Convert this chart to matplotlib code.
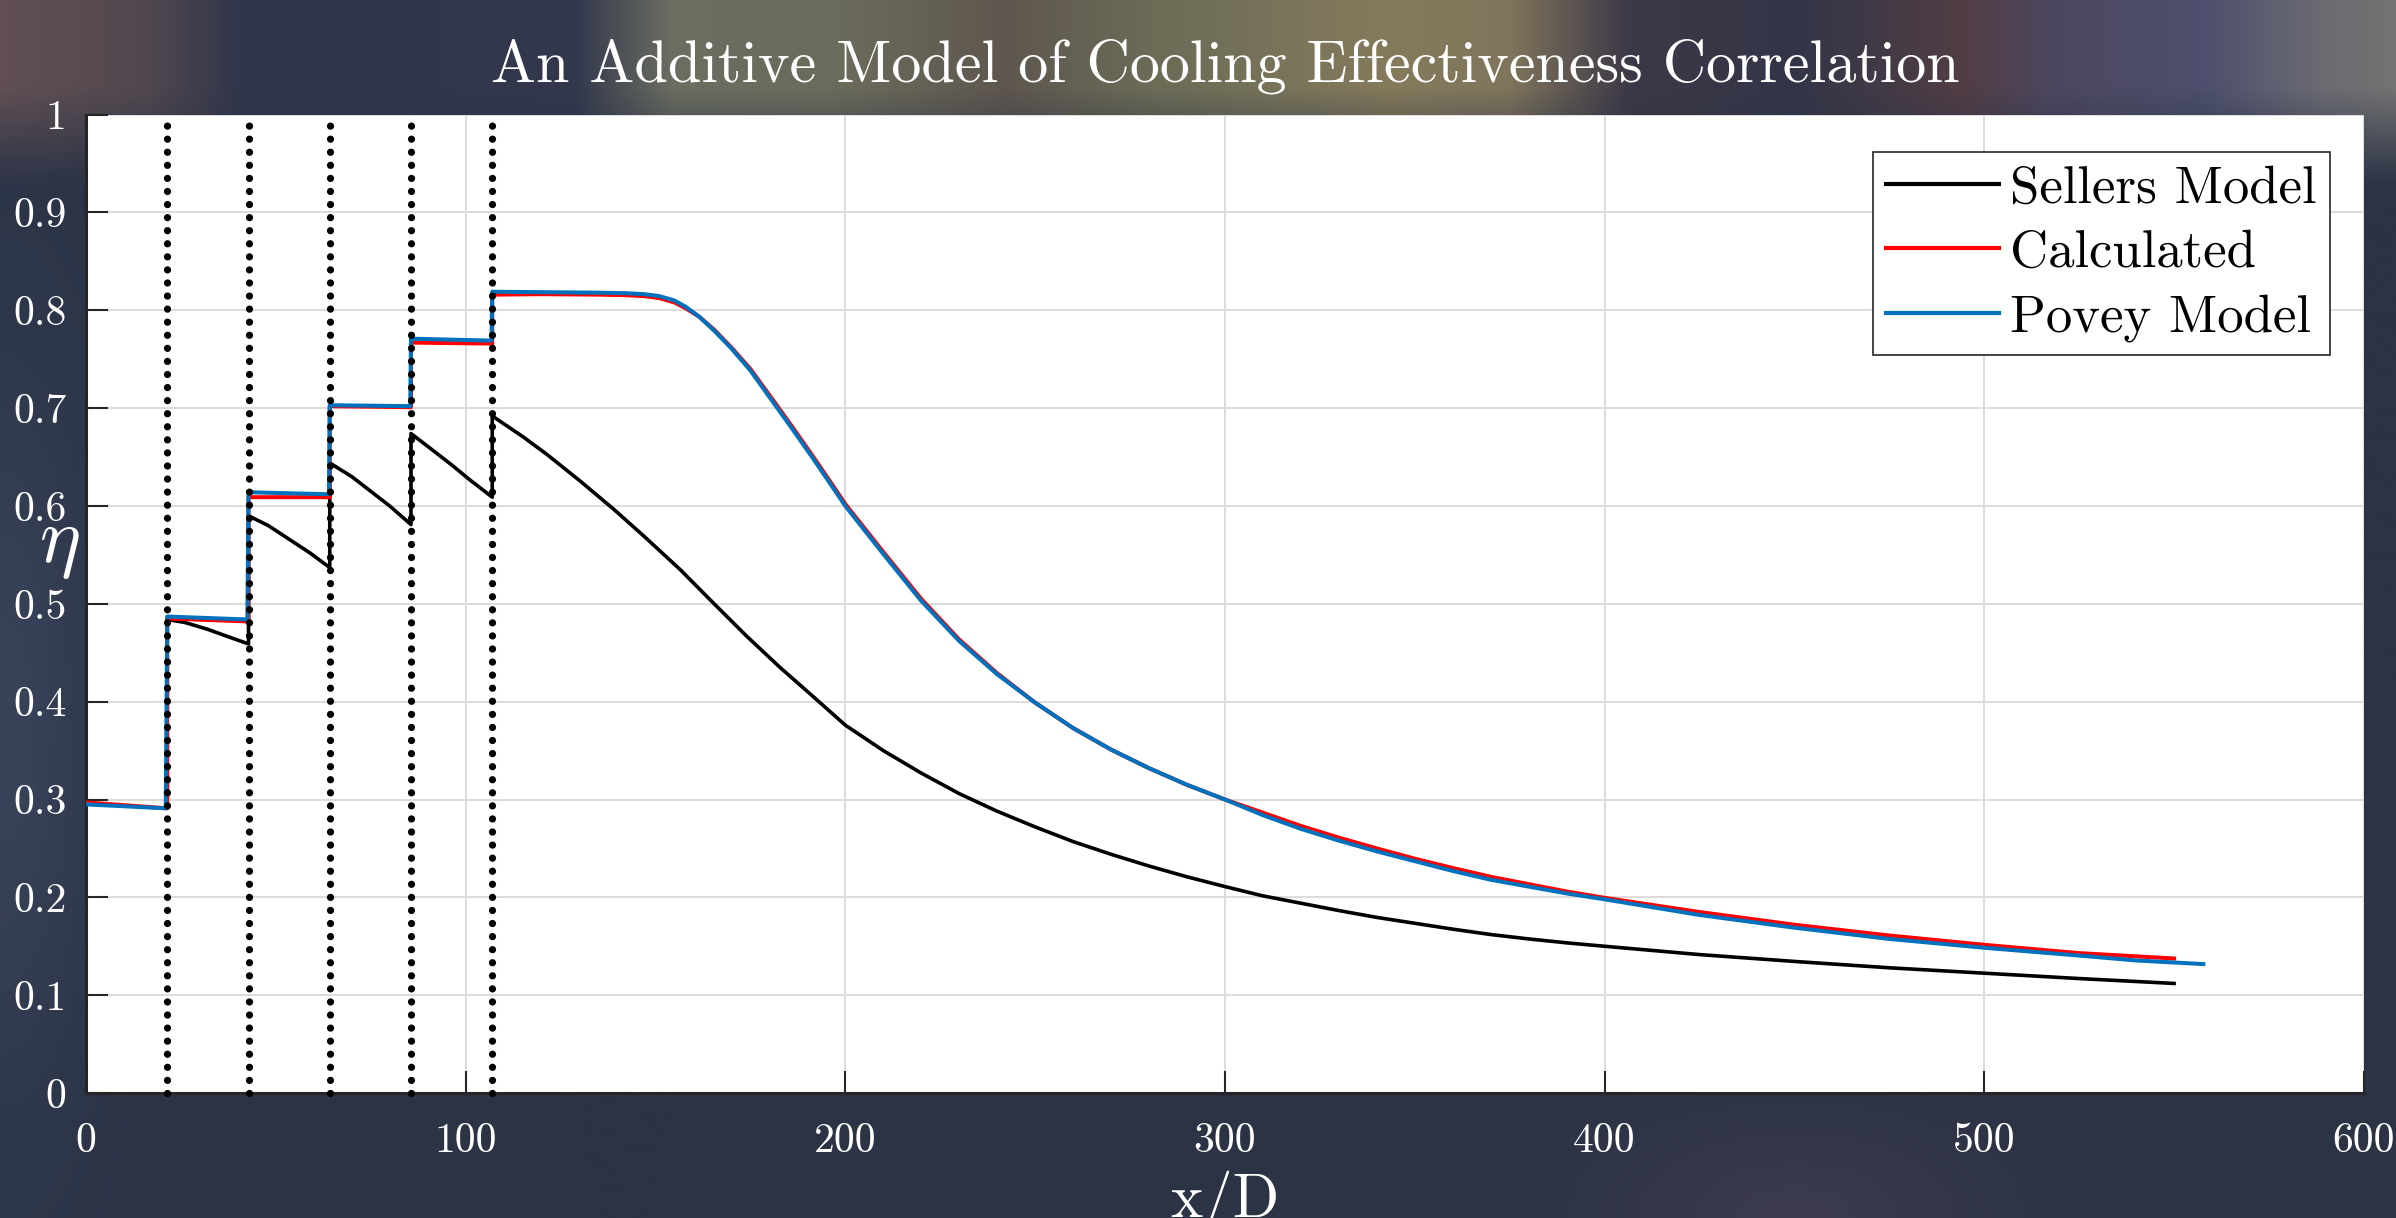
import numpy as np
import matplotlib
matplotlib.use("Agg")
import matplotlib.pyplot as plt

plt.rcParams['font.family'] = ['cmr10', 'DejaVu Serif']
plt.rcParams['mathtext.fontset'] = 'cm'
plt.rcParams['axes.formatter.use_mathtext'] = True

# ---------------- data ----------------
injection_x = [21.4, 42.8, 64.2, 85.6, 107.0]

calc_x = [0, 21.4, 21.4, 42.8, 42.8, 64.2, 64.2, 85.6, 85.6, 107, 107, 120, 135, 142, 147,
          151, 155, 158, 161.5, 165.5, 170, 175, 181, 186, 191.6, 196, 200, 210, 220, 230,
          240, 250, 260, 270, 280, 290, 300, 310, 320, 330, 340, 350, 360, 370, 380, 390,
          400, 425, 450, 475, 500, 525, 550]
calc_y = [0.297, 0.291, 0.485, 0.482, 0.609, 0.609, 0.702, 0.701, 0.767, 0.766, 0.816, 0.8165,
          0.816, 0.8155, 0.8145, 0.8125, 0.808, 0.802, 0.7935, 0.780, 0.762, 0.740, 0.708,
          0.681, 0.650, 0.625, 0.602, 0.553, 0.505, 0.4635, 0.429, 0.399, 0.373, 0.351,
          0.332, 0.315, 0.300, 0.2865, 0.273, 0.261, 0.250, 0.2395, 0.230, 0.221, 0.2135,
          0.206, 0.1995, 0.185, 0.172, 0.161, 0.1515, 0.143, 0.1375]

povey_x = [0, 21.0, 21.4, 42.5, 42.8, 64.0, 64.2, 85.4, 85.6, 106.8, 107, 120, 135, 142,
           147, 151, 155, 158, 161.5, 165.5, 170, 175, 181, 186, 191.6, 196, 200, 210, 220,
           230, 240, 250, 260, 270, 280, 290, 300, 310, 320, 330, 340, 350, 360, 370, 380,
           390, 400, 425, 450, 475, 500, 525, 540, 557.7]
povey_y = [0.295, 0.291, 0.487, 0.484, 0.614, 0.612, 0.703, 0.702, 0.771, 0.769, 0.819, 0.8185,
           0.818, 0.8175, 0.8165, 0.8145, 0.810, 0.8035, 0.7935, 0.779, 0.761, 0.7385, 0.706,
           0.679, 0.648, 0.623, 0.600, 0.551, 0.503, 0.462, 0.428, 0.399, 0.373, 0.351,
           0.332, 0.315, 0.300, 0.284, 0.270, 0.258, 0.247, 0.237, 0.227, 0.218, 0.211,
           0.204, 0.198, 0.182, 0.169, 0.1575, 0.1485, 0.1405, 0.1355, 0.1318]

sellers_x = [21.4, 26, 32, 37, 42.8, 42.8, 48, 53.5, 59, 64.2, 64.2, 70, 75, 80, 85.6, 85.6,
             91, 96.3, 101, 107, 107, 115, 121.3, 130, 138.9, 147, 156.5, 165.2, 174, 182.8,
             191.6, 200, 210, 220, 230, 240, 250, 260, 270, 280, 290, 300, 310, 320, 330,
             340, 350, 360, 370, 380, 390, 400, 425, 450, 475, 500, 525, 550]
sellers_y = [0.484, 0.481, 0.474, 0.467, 0.459, 0.590, 0.580, 0.566, 0.552, 0.537, 0.644, 0.630,
             0.615, 0.600, 0.581, 0.674, 0.658, 0.642, 0.627, 0.609, 0.692, 0.671, 0.653,
             0.626, 0.597, 0.569, 0.535, 0.501, 0.467, 0.435, 0.405, 0.376, 0.350, 0.327,
             0.306, 0.288, 0.272, 0.257, 0.244, 0.232, 0.221, 0.211, 0.2015, 0.194, 0.1865,
             0.1795, 0.1735, 0.1675, 0.162, 0.1575, 0.1535, 0.1500, 0.1415, 0.1345, 0.128,
             0.1225, 0.117, 0.112]

x_ticks = [0, 100, 200, 300, 400, 500, 600]
x_tick_labels = ['0', '100', '200', '300', '400', '500', '600']
y_ticks = [0, 0.1, 0.2, 0.3, 0.4, 0.5, 0.6, 0.7, 0.8, 0.9, 1.0]
y_tick_labels = ['0', '0.1', '0.2', '0.3', '0.4', '0.5', '0.6', '0.7', '0.8', '0.9', '1']

series_labels = ['Sellers Model', 'Calculated', 'Povey Model']
title_text = 'An Additive Model of Cooling Effectiveness Correlation'

# ---------------- background (blurred photo look) ----------------
W, H = 480, 244
fx = np.linspace(0, 1, W)
fy = np.linspace(0, 1, H)  # 0 = top
top_stops = [0.00, 0.06, 0.10, 0.24, 0.28, 0.35, 0.42, 0.48, 0.58, 0.63, 0.68, 0.75, 0.82, 0.86, 0.92, 0.97, 1.00]
top_cols = np.array([
    (0.38, 0.31, 0.33), (0.32, 0.28, 0.31), (0.19, 0.21, 0.29), (0.20, 0.22, 0.30),
    (0.42, 0.43, 0.38), (0.42, 0.42, 0.36), (0.37, 0.34, 0.31), (0.42, 0.42, 0.34),
    (0.52, 0.48, 0.36), (0.50, 0.46, 0.36), (0.24, 0.22, 0.28), (0.20, 0.21, 0.28),
    (0.32, 0.24, 0.27), (0.30, 0.28, 0.38), (0.30, 0.31, 0.43), (0.42, 0.42, 0.45),
    (0.45, 0.45, 0.45)])
top_row = np.stack([np.interp(fx, top_stops, top_cols[:, c]) for c in range(3)], axis=-1)
base = np.array([0.17, 0.20, 0.27])
X, Y = np.meshgrid(fx, fy)
img = np.ones((H, W, 3)) * base
left_glow = np.exp(-((X - 0.0) / 0.04) ** 2) * np.exp(-((Y - 0.6) / 0.3) ** 2)
img += left_glow[..., None] * np.array([0.05, 0.06, 0.08])
br = np.exp(-((X - 0.75) / 0.08) ** 2) * np.exp(-((Y - 1.0) / 0.08) ** 2)
img += br[..., None] * np.array([0.06, 0.03, 0.03])
wt = np.clip(1 - (Y - 0.07) / 0.08, 0, 1)
img = img * (1 - wt[..., None]) + top_row[None, :, :] * wt[..., None]
img = np.clip(img, 0, 1)

fig = plt.figure(figsize=(23.96, 12.18), dpi=100)
bg = fig.add_axes([0, 0, 1, 1], zorder=-10)
bg.imshow(img, aspect='auto', extent=[0, 1, 0, 1], interpolation='bicubic')
bg.set_axis_off()

ax = fig.add_axes([0.0359, 0.1026, 0.9507, 0.8033])
ax.set_facecolor('white')

ax.plot(sellers_x, sellers_y, color='black', lw=2.6, label=series_labels[0], zorder=3)
ax.plot(calc_x, calc_y, color='#FF0000', lw=2.9, label=series_labels[1], zorder=3)
ax.plot(povey_x, povey_y, color='#0072BD', lw=2.9, label=series_labels[2], zorder=4)

for xi in injection_x:
    ax.plot([xi, xi], [0, 1], color='black', lw=5.2, dashes=[0.01, 1.8],
            dash_capstyle='round', zorder=5, clip_on=False)

ax.set_xlim(0, 600)
ax.set_ylim(0, 1)
ax.set_xticks(x_ticks)
ax.set_xticklabels(x_tick_labels)
ax.set_yticks(y_ticks)
ax.set_yticklabels(y_tick_labels)
ax.grid(True, color='#dcdcdc', lw=1.4)
ax.set_axisbelow(True)

for s in ['top', 'right']:
    ax.spines[s].set_visible(False)
for s in ['left', 'bottom']:
    ax.spines[s].set_color('#262626')
    ax.spines[s].set_linewidth(2.2)

ax.tick_params(axis='both', direction='in', length=16, width=1.5, color='#262626',
               labelcolor='white', labelsize=30)
ax.tick_params(axis='y', pad=14)
ax.tick_params(axis='x', pad=21)

ax.set_xlabel('x/D', color='white', fontsize=44)
ax.xaxis.set_label_coords(0.5, -0.127)
ax.xaxis.label.set_va('baseline')

fig.text(59 / 2396, 1 - 546 / 1218, r'$\eta$', color='white', fontsize=56,
         ha='center', va='center')

fig.text(1225 / 2396, 1 - 82 / 1218, title_text, color='white', fontsize=43.3,
         ha='center', va='baseline')

leg = ax.legend(loc='upper right', bbox_to_anchor=(0.985, 0.9615), borderaxespad=0,
                fontsize=38, frameon=True, fancybox=False, framealpha=1,
                handlelength=2.15, handletextpad=0.2, labelspacing=0.33, borderpad=0.25)
leg.get_frame().set_edgecolor('#262626')
leg.get_frame().set_linewidth(1.2)
for line in leg.get_lines():
    line.set_linewidth(3)

fig.savefig('out.png', dpi=100)
